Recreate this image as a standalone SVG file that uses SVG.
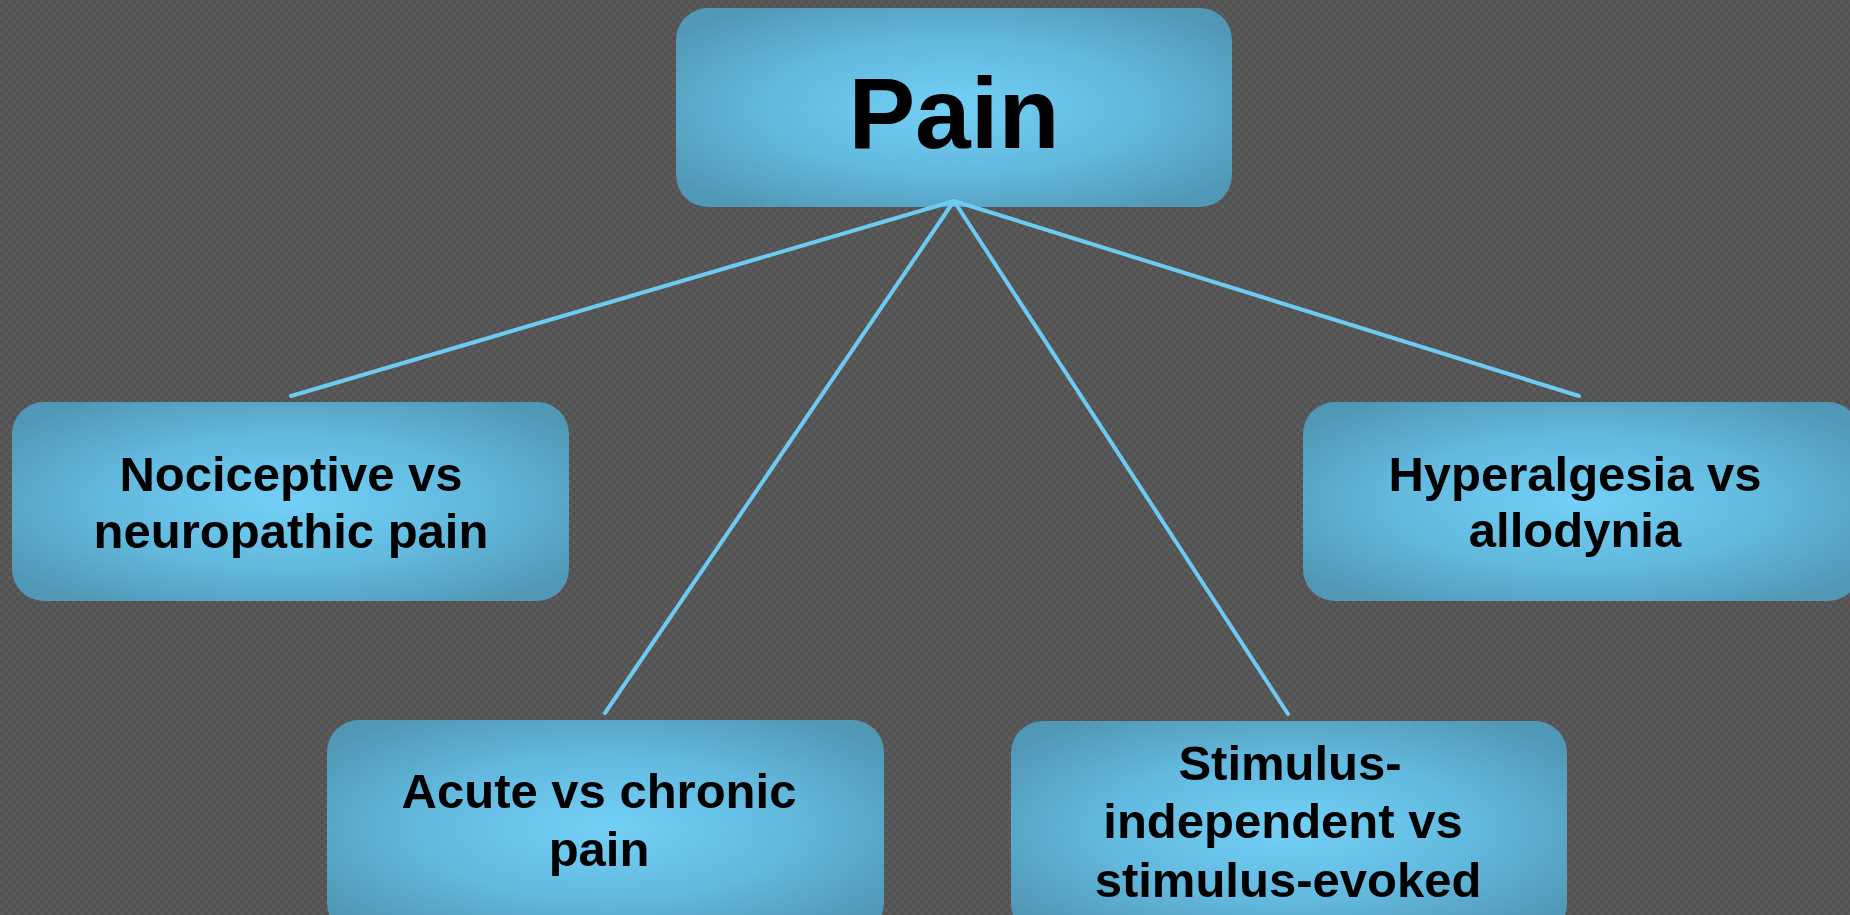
<svg xmlns="http://www.w3.org/2000/svg" width="1850" height="915" viewBox="0 0 1850 915">
  <defs>
    <pattern id="bgTex" width="8" height="8" patternUnits="userSpaceOnUse">
      <rect width="8" height="8" fill="#525252"/>
      <rect width="4" height="4" fill="#5a5a5a"/>
      <rect x="4" y="4" width="4" height="4" fill="#5a5a5a"/>
    </pattern>
    <radialGradient id="boxFill" cx="0.5" cy="0.5" r="0.62">
      <stop offset="0" stop-color="#73d0f7"/>
      <stop offset="0.55" stop-color="#62b8dd"/>
      <stop offset="1" stop-color="#5198b6"/>
    </radialGradient>
    <style>
      .box { fill: url(#boxFill); }
      .lbl { font-family: "Liberation Sans", Arial, sans-serif; font-weight: bold; fill: #000; text-anchor: middle; }
      .sub { font-size: 49px; }
      .main { font-size: 100px; }
      .link { stroke: #6ccbf3; stroke-width: 4; fill: none; stroke-linecap: round; }
    </style>
  </defs>

  <rect width="1850" height="915" fill="url(#bgTex)"/>

  <g id="node-pain">
    <rect class="box" x="676" y="8" width="556" height="199" rx="32"/>
    <text class="lbl main" x="954" y="148">Pain</text>
  </g>

  <g id="connectors">
    <line class="link" x1="954" y1="201" x2="291" y2="396"/>
    <line class="link" x1="954" y1="201" x2="605" y2="713"/>
    <line class="link" x1="954" y1="201" x2="1288" y2="714"/>
    <line class="link" x1="954" y1="201" x2="1579" y2="396"/>
  </g>

  <g id="node-nociceptive">
    <rect class="box" x="12" y="402" width="557" height="199" rx="32"/>
    <text class="lbl sub" x="291" y="491">Nociceptive vs</text>
    <text class="lbl sub" x="291" y="548">neuropathic pain</text>
  </g>

  <g id="node-hyperalgesia">
    <rect class="box" x="1303" y="402" width="557" height="199" rx="32"/>
    <text class="lbl sub" x="1575" y="491">Hyperalgesia vs</text>
    <text class="lbl sub" x="1575" y="547">allodynia</text>
  </g>

  <g id="node-acute">
    <rect class="box" x="327" y="720" width="557" height="215" rx="32"/>
    <text class="lbl sub" x="599" y="808">Acute vs chronic</text>
    <text class="lbl sub" x="599" y="866">pain</text>
  </g>

  <g id="node-stimulus">
    <rect class="box" x="1011" y="721" width="556" height="215" rx="32"/>
    <text class="lbl sub" x="1290" y="780">Stimulus-</text>
    <text class="lbl sub" x="1283" y="838">independent vs</text>
    <text class="lbl sub" x="1288" y="897">stimulus-evoked</text>
  </g>
</svg>
